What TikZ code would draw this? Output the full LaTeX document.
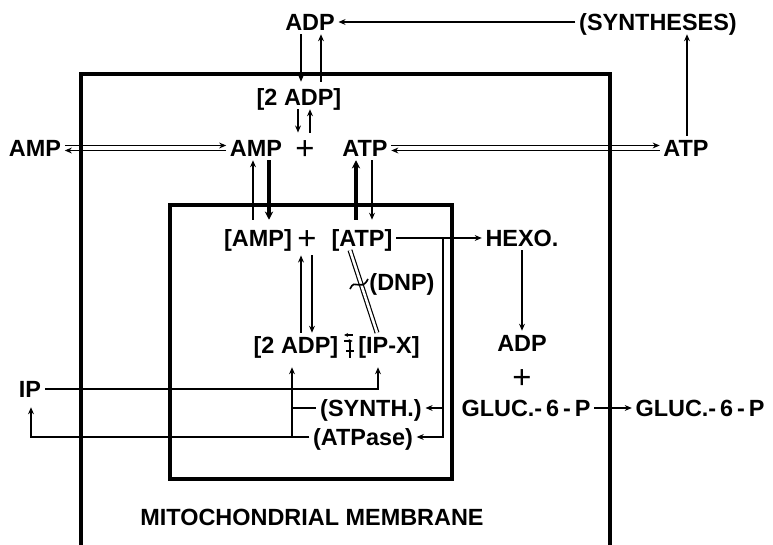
\documentclass[tikz,border=0pt]{standalone}
\usepackage{fontspec}
\setmainfont{Liberation Sans}
\usetikzlibrary{arrows.meta, positioning}

\begin{document}
\begin{tikzpicture}[
            x=0.03cm, y=-0.03cm,
            lbl/.style={inner sep=3pt, text height=14.5pt, text depth=0pt,
                        font=\fontsize{20}{24}\selectfont\bfseries},
            plus/.style={lbl, text height=20pt, font=\fontsize{28}{30}\selectfont},
            arr/.style={-{Stealth[length=6pt, width=5pt]}, line width=1.4pt},
            fat/.style={-{Stealth[length=7pt, width=7pt]}, line width=3pt},
            small/.style={-{Stealth[length=3.5pt, width=3.5pt]}, line width=1pt},
            wire/.style={line width=1.4pt},
            wall/.style={line width=3pt},
            link/.style={double, double distance=2.2pt, line width=1pt},
          ]
          \useasboundingbox (0,0) rectangle (773,545);
          \draw[wall] (81,545) |- (610,74) -- (610,545);
          \draw[wall] (170,205) rectangle (452,479);

          \node[lbl] (adpT) at (310,22) {ADP};
          \node[lbl] (synth) at (658,22) {(SYNTHESES)};
          \node[lbl] (ampL) at (35,148) {AMP};
          \node[lbl] (atpR) at (686,148) {ATP};
          \node[lbl] (ip) at (30,389) {IP};
          \node[lbl] (glucR) at (700,408) {GLUC.-\,6\,-\,P};

          \node[lbl] (adp2) at (299,97) {[2 ADP]};
          \node[lbl] (ampM) at (256,148) {AMP};
          \node[plus] (plusM) at (305,148) {+};
          \node[lbl] (atpM) at (365,148) {ATP};
          \node[lbl] (hexo) at (522,238) {HEXO.};
          \node[lbl] (adpG) at (522,343) {ADP};
          \node[plus] (plusG) at (522,377) {+};
          \node[lbl] (gluc) at (526,408) {GLUC.-\,6\,-\,P};
          \node[lbl] (memb) at (312,517) {MITOCHONDRIAL MEMBRANE};

          \node[lbl] (ampI) at (258,238) {[AMP]};
          \node[plus] (plusI) at (307,238) {+};
          \node[lbl] (atpI) at (362,238) {[ATP]};
          \node[lbl] (dnp) at (402,282) {(DNP)};
          \node[lbl] (adpI) at (296,345) {[2 ADP]};
          \node[lbl] (ipx) at (389,345) {[IP-X]};
          \node[lbl] (synthI) at (371,408) {(SYNTH.)};
          \node[lbl] (atpase) at (363,437) {(ATPase)};

          \draw[arr] (synth) -- (adpT);
          \draw[arr] ([shift={(-9,0)}]adpT.south) -- ([shift={(2,-3)}]adp2.north);
          \draw[arr] ([shift={(22,-3)}]adp2.north) -- ([shift={(11,0)}]adpT.south);
          \draw[arr] ([shift={(-1,0)}]adp2.south) -- ([shift={(-7,0)}]plusM.north);
          \draw[arr] ([shift={(5,0)}]plusM.north) -- ([shift={(11,0)}]adp2.south);

          \draw[arr] ([shift={(0,-2.5)}]ampL.east) -- ([shift={(0,-2.5)}]ampM.west);
          \draw[arr] ([shift={(0,2.5)}]ampM.west) -- ([shift={(0,2.5)}]ampL.east);
          \draw[arr] ([shift={(0,-2.5)}]atpM.east) -- ([shift={(0,-2.5)}]atpR.west);
          \draw[arr] ([shift={(0,2.5)}]atpR.west) -- ([shift={(0,2.5)}]atpM.east);
          \draw[arr] ([shift={(1,0)}]atpR.north) -- ([shift={(29,0)}]synth.south);

          \draw[arr] ([shift={(-5,-6)}]ampI.north) -- ([shift={(-3,0)}]ampM.south);
          \draw[fat] ([shift={(13,0)}]ampM.south) -- ([shift={(11,-6)}]ampI.north);
          \draw[fat] ([shift={(-6,-6)}]atpI.north) -- ([shift={(-9,0)}]atpM.south);
          \draw[arr] ([shift={(7,0)}]atpM.south) -- ([shift={(10,-6)}]atpI.north);

          \draw[arr] ([shift={(5,0)}]adpI.north) -- ([shift={(-6,2)}]plusI.south);
          \draw[arr] ([shift={(5,2)}]plusI.south) -- ([shift={(16,0)}]adpI.north);

          \draw[arr] (atpI) -- (hexo);
          \draw[arr] (hexo) -- (adpG);
          \draw[arr] (gluc) -- (glucR);

          \draw[link] ([shift={(-12,0)}]atpI.south) -- ([shift={(-12,0)}]ipx.north);
          \draw[wire] (350,289) .. controls (355,277) and (361,293) .. (368,279);

          \draw[small] ([shift={(-2,-10)}]ipx.west) -- ([shift={(2,-10)}]adpI.east);
          \draw[small] ([shift={(2,-4)}]adpI.east) -- ([shift={(-2,-4)}]ipx.west);
          \draw[line width=1pt] ([shift={(8,-4)}]adpI.east) -- ([shift={(8,13)}]adpI.east)
                                ([shift={(4,6)}]adpI.east) -- ([shift={(12,6)}]adpI.east);

          \draw[arr] (ip.east) -| ([shift={(-11,10)}]ipx.south);
          \coordinate (j) at ([shift={(-4,10)}]adpI.south);
          \draw[arr] (j |- atpase.west) -- (j);
          \draw[wire] (j |- synthI.west) -- (synthI.west);
          \draw[arr] (atpase.west) -| ([shift={(1,6)}]ip.south);

          \coordinate (k) at (443,238);
          \draw[arr] (k) |- (atpase.east);
          \draw[arr] (k |- synthI.east) -- (synthI.east);
        \end{tikzpicture}
\end{document}
